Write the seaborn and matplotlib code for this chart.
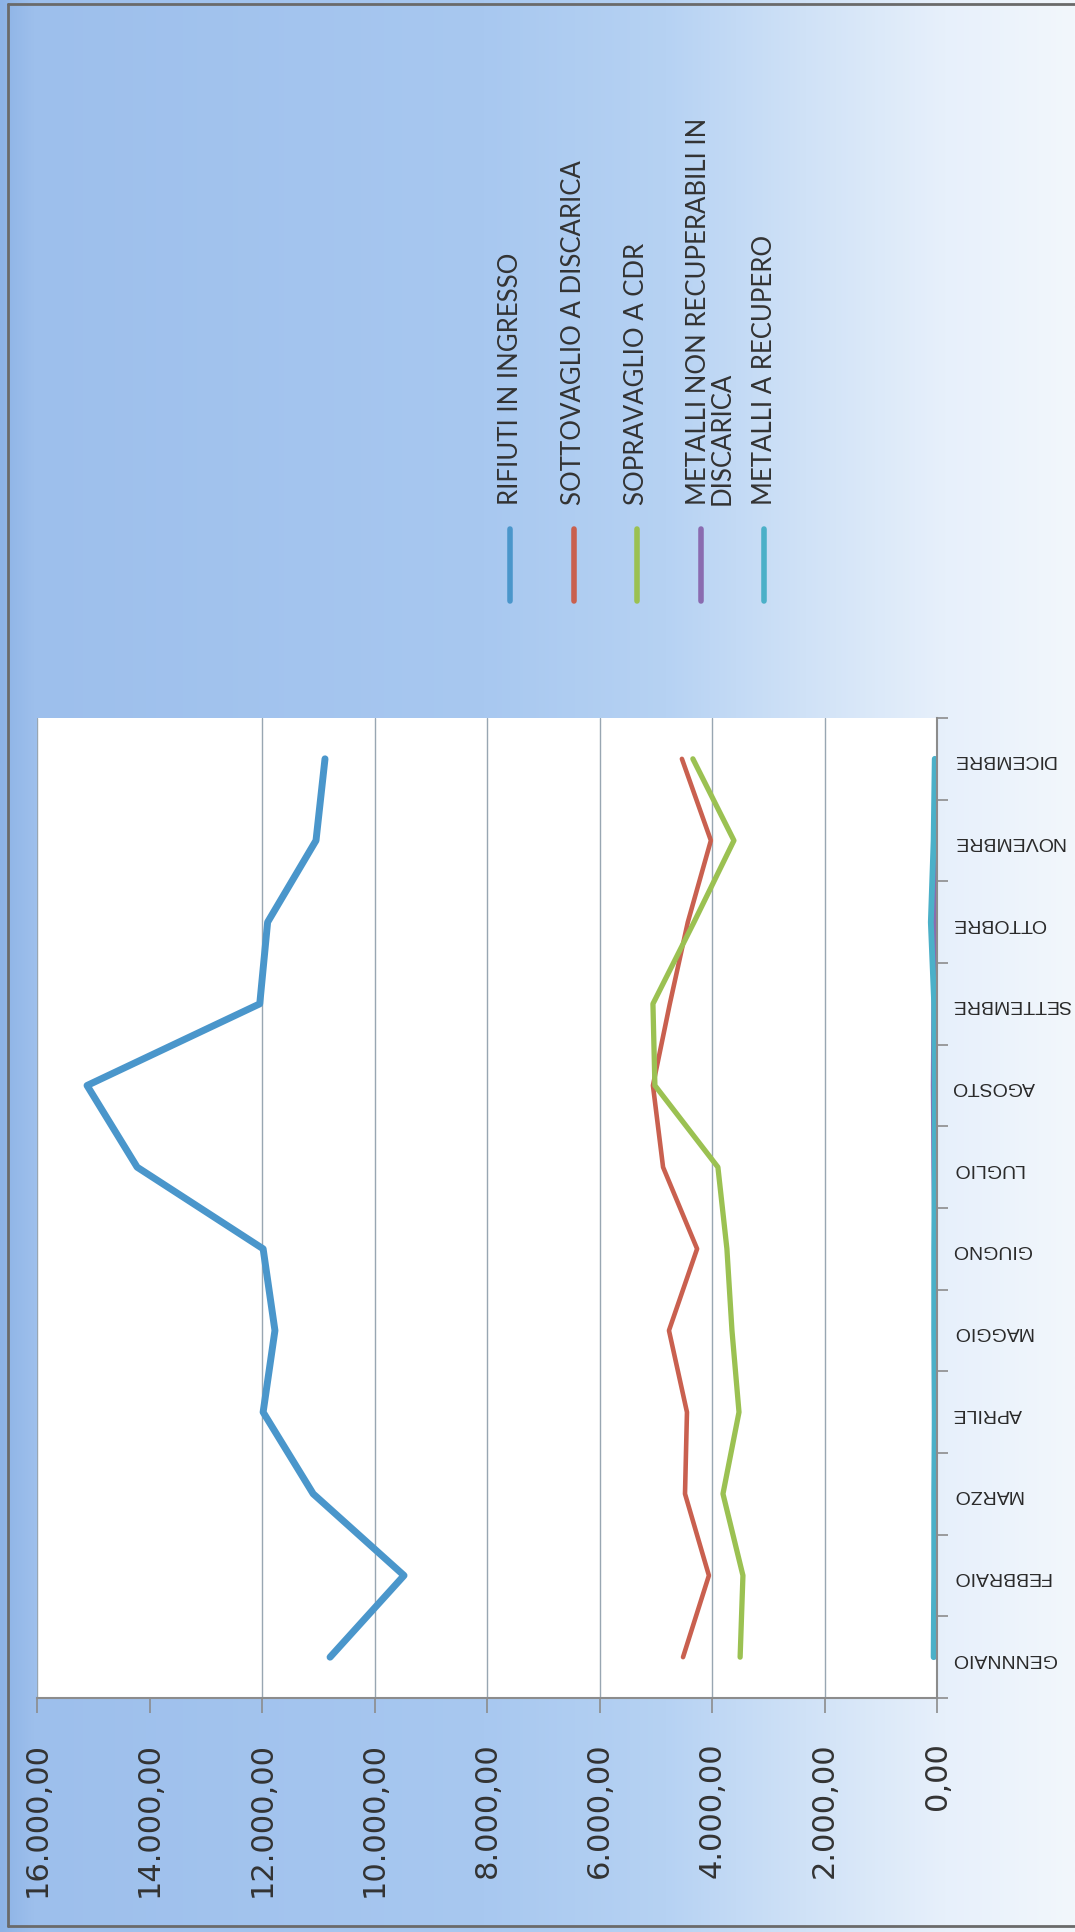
import textwrap
import numpy as np
import pandas as pd
import matplotlib
matplotlib.use("Agg")
import matplotlib.pyplot as plt
import seaborn as sns
from matplotlib.lines import Line2D
from matplotlib.ticker import FuncFormatter
from matplotlib.colors import to_rgb
from matplotlib import font_manager

# ---------------- data ----------------
mesi = ["GENNNAIO", "FEBBRAIO", "MARZO", "APRILE", "MAGGIO", "GIUGNO",
        "LUGLIO", "AGOSTO", "SETTEMBRE", "OTTOBRE", "NOVEMBRE", "DICEMBRE"]
serie = ["RIFIUTI IN INGRESSO", "SOTTOVAGLIO A DISCARICA", "SOPRAVAGLIO A CDR",
         "METALLI NON RECUPERABILI IN DISCARICA", "METALLI A RECUPERO"]
rifiuti = [10790, 9475, 11090, 11980, 11770, 11980, 14220, 15110, 12040, 11900, 11040, 10880]
sottovaglio = [4515, 4055, 4480, 4445, 4765, 4265, 4870, 5050, 4750, 4430, 4020, 4535]
sopravaglio = [3500, 3450, 3805, 3520, 3645, 3735, 3895, 5015, 5050, 4320, 3610, 4340]
metalli_non_rec = [40, 30, 40, 50, 50, 40, 60, 70, 60, 30, 20, 20]
metalli_rec = [60, 50, 50, 40, 50, 50, 40, 40, 50, 110, 60, 40]
valori_asse = [0, 2000, 4000, 6000, 8000, 10000, 12000, 14000, 16000]

colori = ["#4a96cb", "#c9604f", "#9bc152", "#8a6bb0", "#4bb0c8"]
spessori = [5.0, 3.3, 3.8, 3.3, 4.2]

valori = [rifiuti, sottovaglio, sopravaglio, metalli_non_rec, metalli_rec]
rows = []
for s, vals in zip(serie, valori):
    for i, v in enumerate(vals):
        rows.append({"serie": s, "mese": mesi[i], "pos": i, "valore": v})
df = pd.DataFrame(rows)

# ---------------- figure ----------------
sns.set_style("white")
plt.rcParams["font.family"] = ["DejaVu Sans"]

installed = {f.name for f in font_manager.fontManager.ttflist}
if "Liberation Sans Narrow" in installed:
    month_family, month_size = ["Liberation Sans Narrow", "Liberation Sans"], 17
else:
    month_family, month_size = ["Liberation Sans", "DejaVu Sans"], 14

W, H = 1075, 1933
fig = plt.figure(figsize=(W / 100, H / 100), dpi=100)

# background gradient (chart area)
stops_x = [0.0, 0.03, 0.45, 0.62, 0.75, 0.88, 1.0]
stops_c = ["#8db3e6", "#9dbfec", "#a8c8f0", "#b6d2f3", "#d0e2f7", "#e7f0fb", "#f2f7fc"]
xs = np.linspace(0, 1, 512)
rgb = np.array([to_rgb(c) for c in stops_c])
row = np.stack([np.interp(xs, stops_x, rgb[:, k]) for k in range(3)], axis=-1)
grad = np.repeat(row[None, :, :], 4, axis=0)
bg = fig.add_axes([0, 0, 1, 1], zorder=-5)
bg.imshow(grad, aspect="auto", extent=[0, 1, 0, 1], interpolation="bilinear")
bg.set_axis_off()

# scan border
for xa, ya in [([8 / W, 1.0], [1 - 5 / H, 1 - 5 / H]),
               ([8 / W, 8 / W], [1 - 5 / H, 1 - 1927 / H]),
               ([8 / W, 1.0], [1 - 1927 / H, 1 - 1927 / H])]:
    fig.add_artist(Line2D(xa, ya, transform=fig.transFigure, color="#6a6a6a", lw=2.0))

# plot area
left, right, top, bottom = 37, 937, 719, 1699
ax = fig.add_axes([left / W, 1 - bottom / H, (right - left) / W, (bottom - top) / H])
ax.set_facecolor("white")

for s, c, lw in zip(serie, colori, spessori):
    sns.lineplot(data=df[df["serie"] == s], x="valore", y="pos", orient="y",
                 estimator=None, color=c, linewidth=lw, legend=False, ax=ax,
                 solid_capstyle="round", solid_joinstyle="round")

ax.set_xlim(16000, 0)
ax.set_ylim(-0.5, 11.5)
ax.set_xlabel("")
ax.set_ylabel("")

# value axis (bottom in the rotated picture)
ax.set_xticks(valori_asse)
ax.xaxis.set_major_formatter(FuncFormatter(
    lambda v, p: f"{v:,.2f}".replace(",", "X").replace(".", ",").replace("X", ".")))
ax.tick_params(axis="x", direction="out", length=11, width=1.2, color="#8c8c8c",
               pad=20, labelsize=22, labelcolor="#333333", labelrotation=90, bottom=True)
ax.grid(axis="x", color="#98a6b2", linewidth=1.0)
ax.grid(axis="y", visible=False)
for t in ax.xaxis.get_major_ticks():
    if abs(t.get_loc() - 16000) < 1:
        t.gridline.set_visible(False)

# category axis (right in the rotated picture)
ax.yaxis.tick_right()
ax.set_yticks(range(len(mesi)))
ax.set_yticklabels(mesi)
ax.set_yticks(np.arange(-0.5, len(mesi), 1), minor=True)
ax.tick_params(axis="y", which="major", length=0, pad=11, labelsize=month_size,
               labelcolor="#2a2a2a")
ax.tick_params(axis="y", which="minor", length=8, width=1.2, color="#8c8c8c", direction="out",
               right=True, left=False)
for lab in ax.get_yticklabels():
    lab.set_rotation(180)
    lab.set_ha("left")
    lab.set_va("center")
    lab.set_fontfamily(month_family)

for side in ["left", "top"]:
    ax.spines[side].set_visible(False)
for side in ["right", "bottom"]:
    ax.spines[side].set_color("#8c8c8c")
    ax.spines[side].set_linewidth(1.5)

# legend (rotated, drawn above the plot area)
leg_x0, leg_dx = 510, 63.5
for i, (s, c) in enumerate(zip(serie, colori)):
    x = leg_x0 + i * leg_dx
    fig.add_artist(Line2D([x / W, x / W], [1 - 530 / H, 1 - 602 / H],
                          transform=fig.transFigure, color=c, lw=4,
                          solid_capstyle="round"))
    label = textwrap.fill(s, 27)
    if "\n" in label:
        fig.text((x - 15) / W, 1 - 505 / H, label, rotation=90, rotation_mode="anchor",
                 ha="left", va="top", fontsize=18.5, color="#333333",
                 family=["Lato", "DejaVu Sans"], linespacing=0.95)
    else:
        fig.text(x / W, 1 - 505 / H, label, rotation=90, rotation_mode="anchor",
                 ha="left", va="center", fontsize=18.5, color="#333333",
                 family=["Lato", "DejaVu Sans"])

fig.savefig("out.png", dpi=100)
